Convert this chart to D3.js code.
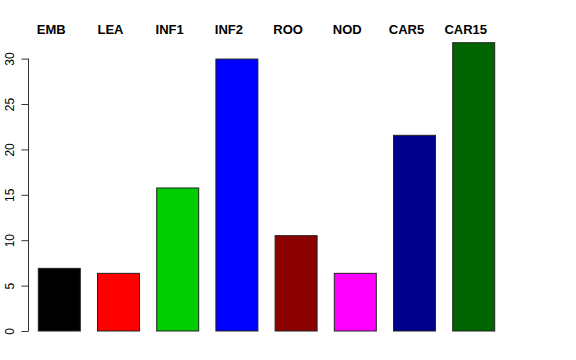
<!DOCTYPE html>
<html>
<head>
<meta charset="utf-8">
<script src="https://cdn.jsdelivr.net/npm/d3@7"></script>
<style>
    body { margin: 0; background: #fff; }
    svg { display: block; }
    .lab { font-family: "Liberation Sans", Arial, sans-serif; font-weight: bold; font-size: 13px; }
    .tick text { font-family: "Liberation Sans", Arial, sans-serif; font-size: 12px; }
</style>
</head>
<body>
<div id="chart"></div>
<script>
var categories = ["EMB", "LEA", "INF1", "INF2", "ROO", "NOD", "CAR5", "CAR15"];
var values = [6.9, 6.35, 15.75, 29.95, 10.5, 6.35, 21.55, 31.75];
var colors = ["#000000", "#FF0000", "#00CD00", "#0000FF", "#8B0000", "#FF00FF", "#00008B", "#006400"];
var yTicks = [0, 5, 10, 15, 20, 25, 30];

var width = 576, height = 360;

const svg = d3.select("#chart").append("svg")
    .attr("width", width)
    .attr("height", height)

// bar step ~59.2px, bar width ~42px
const step = 59.2
const pad = 1 - 42 / step
const x0 = 38.3 - (pad / 2) * step
const xScale = d3.scaleBand()
    .domain(categories)
    .range([x0, x0 + step * categories.length])
    .paddingInner(pad)
    .paddingOuter(pad / 2)

const yScale = d3.scaleLinear().domain([0, 30]).range([331, 58.6])

// y axis
const yAxis = svg.append('g')
    .attr('transform', 'translate(28.5,0)')
    .call(d3.axisLeft(yScale).tickValues(yTicks).tickSize(7).tickPadding(0))
yAxis.select('.domain').attr('stroke', '#333').attr('d', `M0,${yScale(0)}V${yScale(30)}`)
yAxis.selectAll('.tick line').attr('stroke', '#333')
yAxis.selectAll('.tick text')
    .attr('fill', '#000')
    .attr('text-anchor', 'middle')
    .attr('dy', null)
    .attr('x', null)
    .attr('transform', 'translate(-14.5,0) rotate(-90)')

// bars
svg.selectAll('.bar')
    .data(values)
    .enter().append('rect')
    .attr('class', 'bar')
    .attr('x', (d, i) => xScale(categories[i]))
    .attr('y', d => yScale(d))
    .attr('width', xScale.bandwidth())
    .attr('height', d => yScale(0) - yScale(d))
    .attr('fill', (d, i) => colors[i])
    .attr('stroke', '#222')
    .attr('stroke-width', 1)

// top labels, slightly left of bar centre
svg.selectAll('.lab')
    .data(categories)
    .enter().append('text')
    .attr('class', 'lab')
    .attr('x', d => xScale(d) + 13)
    .attr('y', 33.5)
    .attr('text-anchor', 'middle')
    .text(d => d)
</script>
</body>
</html>
